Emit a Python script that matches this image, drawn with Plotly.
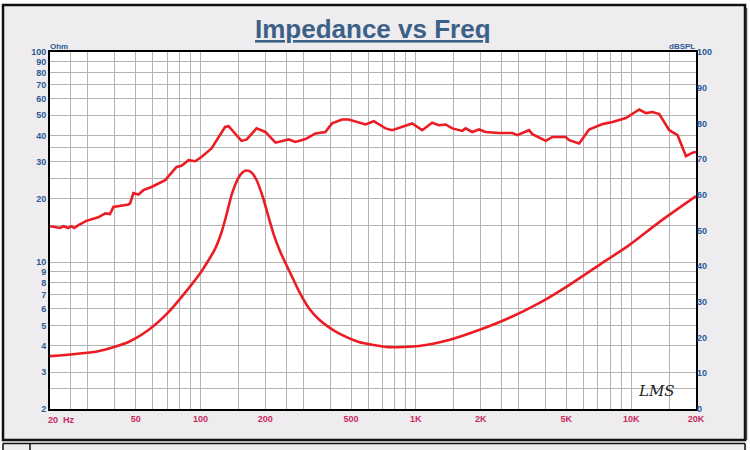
import plotly.graph_objects as go

# ---------------- data ----------------
imp_freq = [20, 33.5, 46.3, 57.3, 71, 88, 100, 107, 117, 125, 132, 140, 150, 157, 164,
            172, 182, 195, 207, 220, 233, 248, 265, 286, 320, 354, 400, 439, 543, 749, 1033,
            1425, 1964, 2708, 3734, 5150, 7098, 9792, 13500, 20000]
imp_ohm = [3.57, 3.77, 4.17, 4.75, 5.78, 7.5, 8.9, 9.9, 11.6, 13.8, 16.8, 21.2, 25.2, 26.8, 27.3,
           26.8, 24.6, 20.3, 16.4, 13.3, 11.4, 9.9, 8.6, 7.3, 6.0, 5.35, 4.85, 4.58, 4.17, 3.94, 3.99,
           4.26, 4.75, 5.42, 6.38, 7.78, 9.68, 12.05, 15.5, 20.6]

spl_freq = [20, 22.3, 23.1, 24.3, 25.1, 25.9, 27.1, 29.5, 33.5, 36.1, 38.0, 39.4, 46.3, 47.1,
            48.8, 51.5, 54.3, 59.2, 68.5, 77.4, 81.6, 88.0, 94.5, 101, 112.5, 130, 135, 155,
            164, 182, 200, 223, 257, 276, 307, 342, 380, 408, 454, 488, 584, 638, 723, 776,
            962, 1070, 1191, 1279, 1375, 1476, 1642, 1703, 1828, 1964, 2110, 2433, 2806, 2960,
            3355, 3476, 4012, 4305, 4970, 5150, 5733, 6378, 7357, 8189, 9452, 10900, 11708,
            12566, 13500, 15026, 16426, 17966, 19286, 20000]
spl_db = [51.2, 50.7, 51.2, 50.7, 51.2, 50.7, 51.5, 52.7, 53.7, 54.8, 54.6, 56.6, 57.3, 57.6,
          60.5, 60.1, 61.3, 62.2, 64.1, 67.8, 68.1, 69.7, 69.4, 70.6, 73.0, 79.0, 79.2, 75.1,
          75.5, 78.6, 77.6, 74.6, 75.5, 74.8, 75.6, 77.2, 77.6, 80.0, 81.1, 81.1, 79.7, 80.6,
          78.6, 78.1, 80.0, 78.1, 80.2, 79.5, 79.7, 78.6, 77.9, 78.6, 77.6, 78.3, 77.6, 77.3,
          77.3, 76.7, 78.1, 77.0, 75.1, 76.2, 76.2, 75.3, 74.4, 78.3, 79.8, 80.4, 81.5, 83.9,
          82.9, 83.2, 82.6, 78.1, 76.7, 70.8, 71.8, 72.0]

x_grid = [20, 25, 30, 40, 50, 60, 70, 80, 90,
          100, 150, 200, 250, 300, 400, 500, 600, 700, 800, 900,
          1000, 1500, 2000, 2500, 3000, 4000, 5000, 6000, 7000, 8000, 9000,
          10000, 15000, 20000]
x_labels = {50: "50", 100: "100", 200: "200", 500: "500", 1000: "1K", 2000: "2K",
            5000: "5K", 10000: "10K", 20000: "20K"}

y_grid = [2, 2.5, 3, 4, 5, 6, 7, 8, 9, 10, 15, 20, 25, 30, 35, 40, 50, 60, 70, 80, 90, 100]
y_labels = {2: "2", 3: "3", 4: "4", 5: "5", 6: "6", 7: "7", 8: "8", 9: "9", 10: "10",
            20: "20", 30: "30", 40: "40", 50: "50", 60: "60", 70: "70", 80: "80",
            90: "90", 100: "100"}

db_ticks = [0, 10, 20, 30, 40, 50, 60, 70, 80, 90, 100]

# ---------------- figure ----------------
RED = "#ec1c24"
BLUE = "#2b5b94"
MAG = "#c8285e"
W, H = 750, 450
L, R, T, B = 50, 54, 52, 41
PW, PH = W - L - R, H - T - B


def px(x):
    return (x - L) / PW


def py(y):
    return (H - B - y) / PH


fig = go.Figure()
fig.add_trace(go.Scatter(x=imp_freq, y=imp_ohm, mode="lines",
                         line=dict(color=RED, width=2.6, shape="spline", smoothing=0.6),
                         hoverinfo="skip", showlegend=False))
fig.add_trace(go.Scatter(x=spl_freq, y=spl_db, mode="lines", yaxis="y2",
                         line=dict(color=RED, width=2.6),
                         hoverinfo="skip", showlegend=False))

tickfont_b = dict(family="Liberation Sans, Arial", size=9, color=BLUE)
fig.update_layout(
    width=W, height=H, autosize=False,
    margin=dict(l=L, r=R, t=T, b=B, pad=0),
    paper_bgcolor="#efecef", plot_bgcolor="white",
    xaxis=dict(type="log", range=[1.30103, 4.30103], tickvals=x_grid,
               ticktext=["<b>%s</b>" % x_labels[v] if v in x_labels else "" for v in x_grid],
               tickfont=dict(family="Liberation Sans, Arial", size=9, color=MAG),
               showgrid=True, gridcolor="#b4b4b4", gridwidth=1,
               showline=True, mirror=True, linecolor="black", linewidth=2,
               ticks="", zeroline=False, fixedrange=True),
    yaxis=dict(type="log", range=[0.30103, 2], tickvals=y_grid,
               ticktext=["<b>%s</b>" % y_labels[v] if v in y_labels else "" for v in y_grid],
               tickfont=tickfont_b,
               showgrid=True, gridcolor="#b4b4b4", gridwidth=1,
               showline=True, mirror=True, linecolor="black", linewidth=2,
               ticks="", zeroline=False, fixedrange=True),
    yaxis2=dict(overlaying="y", side="right", range=[0, 100], tickvals=db_ticks,
                ticktext=["<b>%d</b>" % v for v in db_ticks], tickfont=tickfont_b,
                showgrid=False, showline=False, ticks="", zeroline=False, fixedrange=True),
)

ann = [
    dict(text="<b><u>Impedance vs Freq</u></b>", x=px(373), y=py(29),
         font=dict(family="Liberation Sans, Arial", size=26, color="#3b6187")),
    dict(text="<b>Ohm</b>", x=px(59), y=py(46), font=dict(size=8, color=BLUE, family="Liberation Sans")),
    dict(text="<b>dBSPL</b>", x=px(682), y=py(46), font=dict(size=8, color=BLUE, family="Liberation Sans")),
    dict(text="<b>20  Hz</b>", x=px(61), y=py(420), font=dict(size=9, color=MAG, family="Liberation Sans")),
    dict(text="<i>LMS</i>", x=px(656), y=py(391), font=dict(size=15, color="#222222", family="DejaVu Serif")),
]
for a in ann:
    a.update(xref="paper", yref="paper", showarrow=False, xanchor="center", yanchor="middle")
    fig.add_annotation(**a)

shapes = [
    # white outside strips
    dict(type="rect", x0=px(0), x1=px(2), y0=py(450), y1=py(0), fillcolor="white", line_width=0),
    dict(type="rect", x0=px(0), x1=px(750), y0=py(4), y1=py(0), fillcolor="white", line_width=0),
    dict(type="rect", x0=px(747), x1=px(750), y0=py(450), y1=py(0), fillcolor="white", line_width=0),
    # main frame
    dict(type="rect", x0=px(3), x1=px(745), y0=py(440), y1=py(5), line=dict(color="#111111", width=2.5)),
    dict(type="line", x0=px(746.5), x1=px(746.5), y0=py(440), y1=py(8), line=dict(color="#444444", width=1.5)),
    # bottom strip
    dict(type="line", x0=px(3), x1=px(745), y0=py(443.5), y1=py(443.5), line=dict(color="#111111", width=1.5)),
    dict(type="line", x0=px(3), x1=px(3), y0=py(443.5), y1=py(452), line=dict(color="#111111", width=1.5)),
    dict(type="line", x0=px(30), x1=px(30), y0=py(443.5), y1=py(452), line=dict(color="#111111", width=1.5)),
    dict(type="line", x0=px(745), x1=px(745), y0=py(443.5), y1=py(452), line=dict(color="#111111", width=1.5)),
]
for s in shapes:
    s.update(xref="paper", yref="paper", layer="below")
    fig.add_shape(**s)

fig.write_html("out.html")
